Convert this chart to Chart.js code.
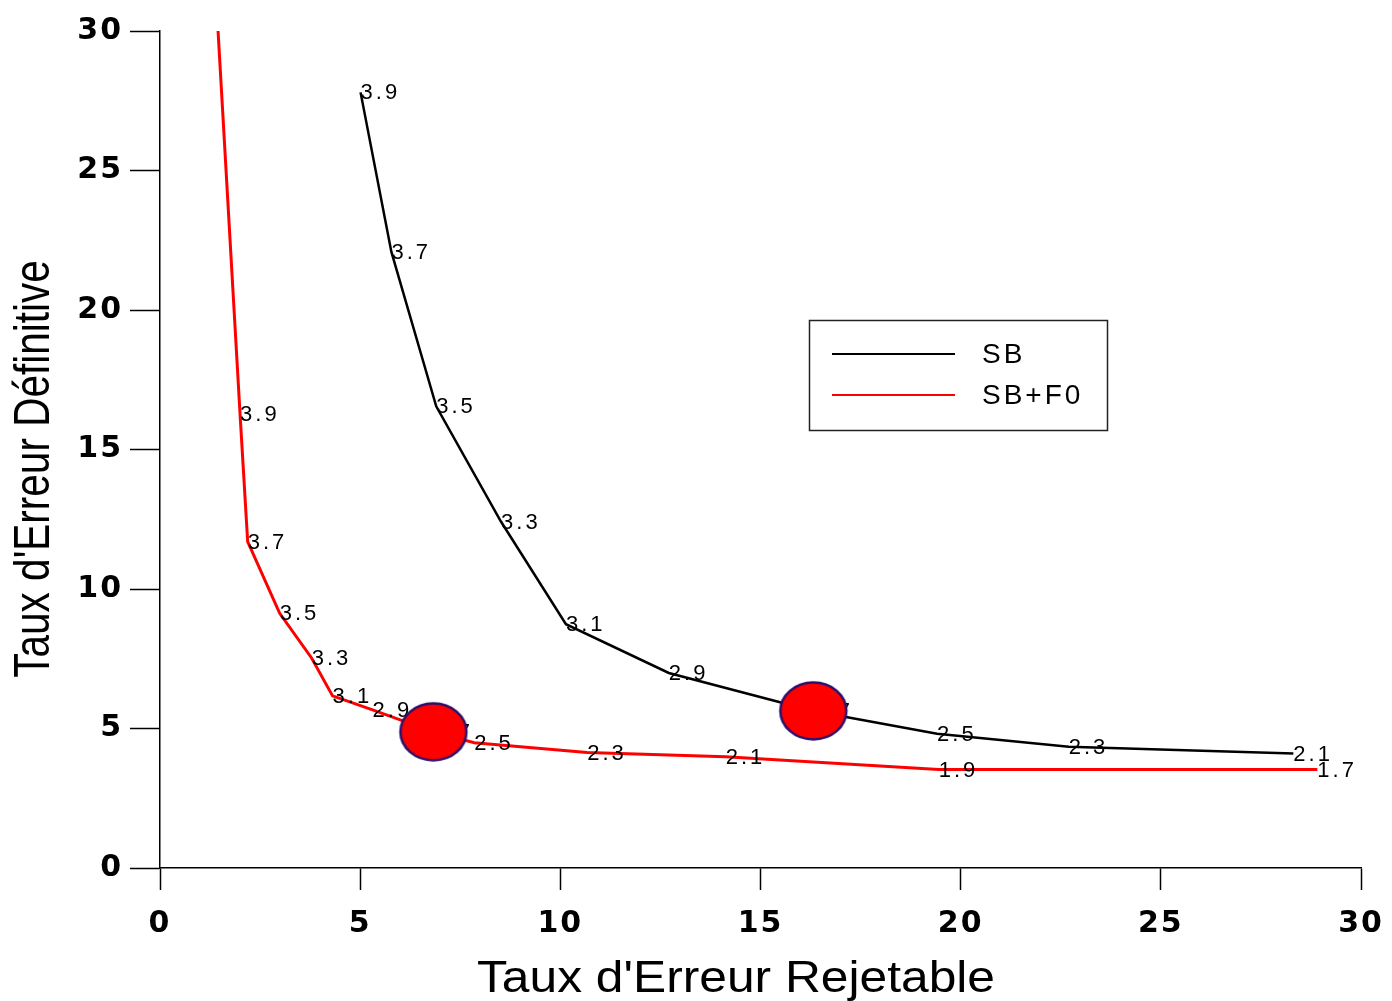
<!DOCTYPE html>
<html lang="fr">
<head>
<meta charset="utf-8">
<title>Taux d'Erreur Définitive / Rejetable</title>
<script src="https://cdn.jsdelivr.net/npm/chart.js@4.4.1/dist/chart.umd.min.js"></script>
<style>
  html, body { margin: 0; padding: 0; background: #ffffff; }
  #wrap { width: 1392px; height: 1001px; }
</style>
</head>
<body>
<div id="wrap"><canvas id="c" width="1392" height="1001"></canvas></div>
<script>
// SB curve: rejection rate (x) vs definitive error rate (y), one point per threshold
const sbX      = [5.01, 5.78, 6.90, 8.52, 10.14, 12.71, 16.32, 19.41, 22.70, 28.31];
const sbY      = [27.8, 22.08, 16.55, 12.41, 8.74, 6.99, 5.63, 4.81, 4.35, 4.10];
const sbLabels = ['3.9', '3.7', '3.5', '3.3', '3.1', '2.9', '2.7', '2.5', '2.3', '2.1'];

// SB+F0 curve (first point runs off the top of the axis, unlabelled)
const f0X      = [1.45, 2.00, 2.19, 2.99, 3.79, 4.31, 5.31, 6.83, 7.85, 10.67, 14.13, 19.45, 28.91];
const f0Y      = [30.0, 16.26, 11.70, 9.13, 7.52, 6.17, 5.67, 4.88, 4.49, 4.14, 3.99, 3.53, 3.53];
const f0Labels = [null, '3.9', '3.7', '3.5', '3.3', '3.1', '2.9', '2.7', '2.5', '2.3', '2.1', '1.9', '1.7'];

// Highlighted operating points
const markX = [6.83, 16.32];
const markY = [4.88, 5.63];

// Axis ticks
const xTicks = [0, 5, 10, 15, 20, 25, 30];
const yTicks = [0, 5, 10, 15, 20, 25, 30];

const xTitle = "Taux d'Erreur Rejetable";
const yTitle = "Taux d'Erreur Définitive";
const seriesNames = ['SB', 'SB+F0'];

const toPoints = (xs, ys) => xs.map((x, i) => ({ x: x, y: ys[i] }));

// Ellipse marker image used as point style
function ellipseMarker() {
  const cv = document.createElement('canvas');
  cv.width = 72; cv.height = 62;
  const g = cv.getContext('2d');
  g.beginPath();
  g.ellipse(36, 31, 33, 28.5, 0, 0, Math.PI * 2);
  g.fillStyle = '#ff0000';
  g.fill();
  g.lineWidth = 2.5;
  g.strokeStyle = '#2a0f6b';
  g.stroke();
  return cv;
}

const textPlugin = {
  id: 'textPlugin',
  beforeDraw(chart) {
    chart.ctx.letterSpacing = '2px';
  },
  beforeDatasetsDraw(chart) {
    chart.ctx.letterSpacing = '0px';
  },
  afterDatasetDraw(chart, args) {
    const ds = chart.data.datasets[args.index];
    if (!ds.pointLabels) return;
    const ctx = chart.ctx;
    ctx.save();
    ctx.letterSpacing = '3px';
    ctx.font = '22px "Liberation Sans", Arial, sans-serif';
    ctx.fillStyle = '#000';
    ctx.textAlign = 'left';
    ctx.textBaseline = 'middle';
    args.meta.data.forEach((pt, i) => {
      const lab = ds.pointLabels[i];
      if (lab) ctx.fillText(lab, pt.x, pt.y + 1);
    });
    ctx.restore();
  },
  afterDraw(chart) {
    const ctx = chart.ctx;
    const font = (px) => px + 'px "Liberation Sans", Arial, sans-serif';

    // vertical axis title
    ctx.save();
    ctx.letterSpacing = '0px';
    ctx.translate(35, 469);
    ctx.rotate(-Math.PI / 2);
    ctx.scale(0.81, 1);
    ctx.font = font(50);
    ctx.fillStyle = '#000';
    ctx.textAlign = 'center';
    ctx.textBaseline = 'middle';
    ctx.fillText(yTitle, 0, 0);
    ctx.restore();

    // horizontal axis title
    ctx.save();
    ctx.letterSpacing = '0px';
    ctx.translate(736, 980);
    ctx.scale(1.13, 1);
    ctx.font = font(44);
    ctx.fillStyle = '#000';
    ctx.textAlign = 'center';
    ctx.textBaseline = 'middle';
    ctx.fillText(xTitle, 0, 0);
    ctx.restore();

    // legend box
    ctx.save();
    ctx.letterSpacing = '3px';
    ctx.lineWidth = 1.5;
    ctx.strokeStyle = '#222';
    ctx.strokeRect(809.5, 320.5, 298, 110);
    const rows = [354, 395];
    [0, 1].forEach((k) => {
      const ds = chart.data.datasets[k];
      ctx.beginPath();
      ctx.moveTo(832, rows[k]);
      ctx.lineTo(955, rows[k]);
      ctx.lineWidth = 2;
      ctx.strokeStyle = ds.borderColor;
      ctx.stroke();
      ctx.font = font(28);
      ctx.fillStyle = '#000';
      ctx.textAlign = 'left';
      ctx.textBaseline = 'middle';
      ctx.fillText(ds.label, 982, rows[k] + 1);
    });
    ctx.restore();
  }
};

const tickFont = { family: '"DejaVu Sans", Arial, sans-serif', size: 30, weight: 'bold' };

new Chart(document.getElementById('c'), {
  type: 'scatter',
  data: {
    datasets: [
      {
        label: seriesNames[0],
        type: 'line',
        data: toPoints(sbX, sbY),
        pointLabels: sbLabels,
        borderColor: '#000000',
        borderWidth: 2.5,
        pointRadius: 0,
        tension: 0,
        fill: false,
        order: 2
      },
      {
        label: seriesNames[1],
        type: 'line',
        data: toPoints(f0X, f0Y),
        pointLabels: f0Labels,
        borderColor: '#ff0000',
        borderWidth: 3,
        pointRadius: 0,
        tension: 0,
        fill: false,
        order: 1
      },
      {
        label: 'points',
        data: toPoints(markX, markY),
        pointStyle: ellipseMarker(),
        pointRadius: 30,
        pointHoverRadius: 30,
        showLine: false,
        order: 0
      }
    ]
  },
  options: {
    responsive: false,
    animation: false,
    events: [],
    layout: { padding: { top: 27, right: 28, left: 0, bottom: 0 } },
    plugins: {
      legend: { display: false },
      tooltip: { enabled: false }
    },
    scales: {
      x: {
        type: 'linear',
        min: xTicks[0],
        max: xTicks[xTicks.length - 1],
        afterBuildTicks: (s) => { s.ticks = xTicks.map(v => ({ value: v })); },
        afterFit: (s) => { s.height = 133; s.paddingLeft = 0; s.paddingRight = 0; },
        ticks: { font: tickFont, color: '#000', padding: 16, maxRotation: 0 },
        grid: {
          drawOnChartArea: false,
          drawTicks: true,
          tickLength: 22,
          tickColor: '#000',
          tickWidth: 1.5
        },
        border: { display: true, color: '#000', width: 1.5 },
        title: { display: false }
      },
      y: {
        type: 'linear',
        min: yTicks[0],
        max: yTicks[yTicks.length - 1],
        afterBuildTicks: (s) => { s.ticks = yTicks.map(v => ({ value: v })); },
        afterFit: (s) => { s.width = 160; s.paddingTop = 0; s.paddingBottom = 0; },
        ticks: { font: tickFont, color: '#000', padding: 7 },
        grid: {
          drawOnChartArea: false,
          drawTicks: true,
          tickLength: 30,
          tickColor: '#000',
          tickWidth: 1.5
        },
        border: { display: true, color: '#000', width: 1.5 },
        title: { display: false }
      }
    }
  },
  plugins: [textPlugin]
});
</script>
</body>
</html>
